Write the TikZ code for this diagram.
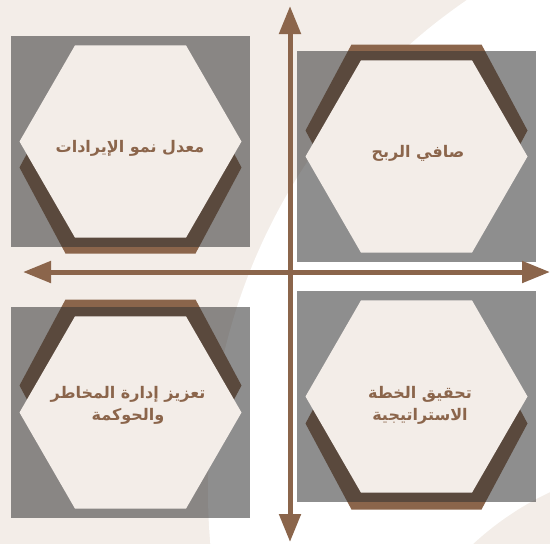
\documentclass[tikz,border=0pt]{standalone}
\usepackage{fontspec}
\newfontfamily\arabicfont[Script=Arabic,BoldFont={DejaVu Sans Bold}]{DejaVu Sans}
\TeXXeTstate=1
\usetikzlibrary{shapes.geometric,arrows.meta}
\definecolor{bgbeige}{RGB}{243,237,232}
\definecolor{hexbeige}{RGB}{243,237,232}
\definecolor{axisbrown}{RGB}{139,101,75}
\definecolor{panelgrey}{RGB}{50,50,50}
\begin{document}
\begin{tikzpicture}[x=1pt, y=-1pt,
  panel/.style={fill=panelgrey, fill opacity=0.55, inner sep=0pt, minimum width=239pt, minimum height=211pt},
  hexa/.style={regular polygon, regular polygon sides=6, minimum size=222pt, inner sep=0pt, fill=hexbeige},
  backhex/.style={fill=axisbrown},
  quadtext/.style={font=\arabicfont\bfseries\fontsize{16}{22}\selectfont, text=axisbrown, align=center},
  axis/.style={draw=axisbrown, line width=5pt, {Triangle[length=28pt,width=21pt]}-{Triangle[length=28pt,width=21pt]}}
]
\useasboundingbox (0,0) rectangle (550,544);
\fill[bgbeige] (0,0) rectangle (550,544);
\begin{scope}
  \clip (0,0) rectangle (550,544);
  \fill[white, even odd rule] (803,491) circle [radius=595pt] (677,764) circle [radius=300pt];
\end{scope}

% top left
\fill[backhex] (130.5,167.5) ++(-111,0) -- ++(46,86) -- ++(130,0) -- ++(46,-86) -- ++(-46,-86) -- ++(-130,0) -- cycle;
\node[panel] (tlpanel) at (130.5,141.5) {};
\node[hexa] (tlhex) at (130.5,141.5) {};
\node[quadtext] (revenue) at (130,148) {\beginR معدل نمو الإيرادات\endR};

% top right
\fill[backhex] (416.5,130.5) ++(-111,0) -- ++(46,86) -- ++(130,0) -- ++(46,-86) -- ++(-46,-86) -- ++(-130,0) -- cycle;
\node[panel] (trpanel) at (416.5,156.5) {};
\node[hexa] (trhex) at (416.5,156.5) {};
\node[quadtext] (profit) at (418,153) {\beginR صافي الربح\endR};

% bottom left
\fill[backhex] (130.5,385.5) ++(-111,0) -- ++(46,86) -- ++(130,0) -- ++(46,-86) -- ++(-46,-86) -- ++(-130,0) -- cycle;
\node[panel] (blpanel) at (130.5,412.5) {};
\node[hexa] (blhex) at (130.5,412.5) {};
\node[quadtext] (risk) at (128,405) {\beginR تعزيز إدارة المخاطر\endR\\\beginR والحوكمة\endR};

% bottom right
\fill[backhex] (416.5,423.5) ++(-111,0) -- ++(46,86) -- ++(130,0) -- ++(46,-86) -- ++(-46,-86) -- ++(-130,0) -- cycle;
\node[panel] (brpanel) at (416.5,396.5) {};
\node[hexa] (brhex) at (416.5,396.5) {};
\node[quadtext] (strategy) at (420,405) {\beginR تحقيق الخطة\endR\\\beginR الاستراتيجية\endR};

% axes
\coordinate (ytop) at (290,6);
\coordinate (ybot) at (290,542);
\coordinate (xleft) at (23,272);
\coordinate (xright) at (550,272);
\draw[axis] (ytop) -- (ybot);
\draw[axis] (xleft) -- (xright);
\end{tikzpicture}
\end{document}
